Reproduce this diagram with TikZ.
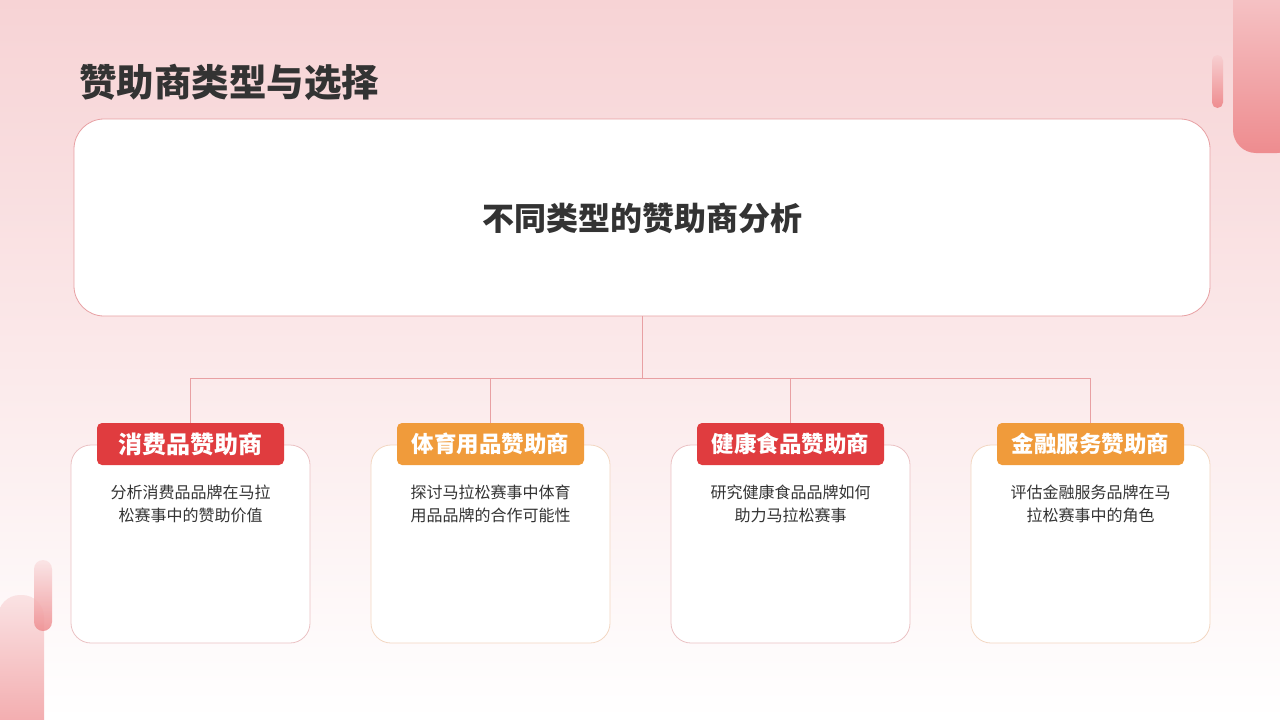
\documentclass[tikz,border=0pt]{standalone}
\usepackage{fontspec}
\setmainfont{Noto Sans CJK SC}
\usetikzlibrary{positioning}
\definecolor{bgtop}{HTML}{F7D3D5}
\definecolor{bgmid}{HTML}{FBE9EA}
\definecolor{deco}{HTML}{EE8C8F}
\definecolor{decolt}{HTML}{F7CFD1}
\definecolor{linec}{HTML}{E8A0A3}
\definecolor{cardred}{HTML}{EBC2C4}
\definecolor{cardor}{HTML}{F3D7C2}
\definecolor{badgered}{HTML}{E03C3F}
\definecolor{badgeor}{HTML}{F09B3B}
\definecolor{txt}{HTML}{333333}
\tikzset{
  mainbox/.style={draw=linec, fill=white, rounded corners=30pt, line width=0.8pt,
    minimum width=1136pt, minimum height=197pt, inner sep=0pt},
  card/.style={draw=#1, fill=white, rounded corners=20pt, line width=0.8pt,
    minimum width=239pt, minimum height=198pt, inner sep=0pt},
  badge/.style={fill=#1, rounded corners=5pt, minimum width=187pt, minimum height=42pt,
    inner sep=0pt, text=white, font=\fontsize{24}{28}\selectfont\bfseries},
  badgesm/.style={badge=#1, font=\fontsize{22.5}{28}\selectfont\bfseries},
  desc/.style={text=txt, align=center, font=\fontsize{16}{23.5}\selectfont, inner sep=0pt},
  conn/.style={draw=linec, line width=1pt}
}
\begin{document}
\begin{tikzpicture}[x=1pt,y=-1pt]
\useasboundingbox (0,0) rectangle (1280,720);
\begin{scope}
\clip (0,0) rectangle (1280,720);
\shade[top color=bgtop, bottom color=white, middle color=bgmid] (0,0) rectangle (1280,720);
% top-right decorations
\shade[top color=decolt, bottom color=deco, rounded corners=23pt] (1233,-40) rectangle (1300,153);
\shade[top color=decolt, bottom color=deco, rounded corners=5.5pt] (1212,55) rectangle (1223,108);
% bottom-left decorations
\shade[top color=decolt!60!white, bottom color=deco!85!white, rounded corners=22pt] (-2,595) rectangle (44,760);
\shade[top color=decolt!60!white, bottom color=deco, rounded corners=9pt, opacity=0.85] (34,560) rectangle (52,631);
\end{scope}
% title
\node[anchor=west, text=txt, font=\fontsize{37.5}{42}\selectfont\bfseries, inner sep=0pt] (title) at (79,82) {赞助商类型与选择};
% main box
\node[mainbox] (main) at (642,217.5) {};
\node[text=txt, font=\fontsize{32}{36}\selectfont\bfseries, inner sep=0pt] (maintext) at (642,218) {不同类型的赞助商分析};
% hub
\coordinate (hub) at (642,378);
% cards
\node[card=cardred] (c1) at (190.5,544) {};
\node[card=cardor] (c2) at (490.5,544) {};
\node[card=cardred] (c3) at (790.5,544) {};
\node[card=cardor] (c4) at (1090.5,544) {};
% badges
\node[badge=badgered] (b1) at (190.5,444) {消费品赞助商};
\node[badgesm=badgeor] (b2) at (490.5,444) {体育用品赞助商};
\node[badgesm=badgered] (b3) at (790.5,444) {健康食品赞助商};
\node[badgesm=badgeor] (b4) at (1090.5,444) {金融服务赞助商};
% connectors
\draw[conn] (main.south) -- (hub);
\draw[conn] (hub) -| (b1.north);
\draw[conn] (hub) -| (b2.north);
\draw[conn] (hub) -| (b3.north);
\draw[conn] (hub) -| (b4.north);
% descriptions
\node[desc] (d1) at (190.5,504) {分析消费品品牌在马拉\\松赛事中的赞助价值};
\node[desc] (d2) at (490.5,504) {探讨马拉松赛事中体育\\用品品牌的合作可能性};
\node[desc] (d3) at (790.5,504) {研究健康食品品牌如何\\助力马拉松赛事};
\node[desc] (d4) at (1090.5,504) {评估金融服务品牌在马\\拉松赛事中的角色};
\end{tikzpicture}
\end{document}
